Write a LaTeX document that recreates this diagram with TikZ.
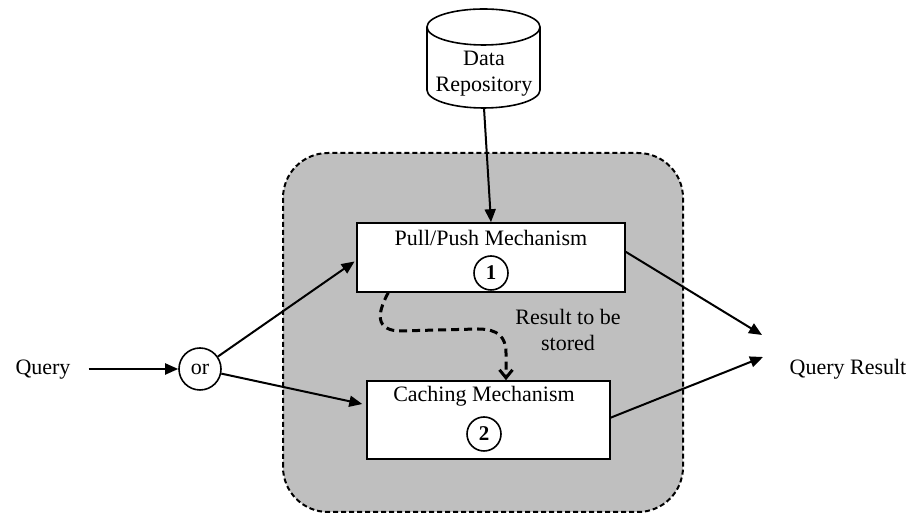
\documentclass[tikz,border=0pt]{standalone}
\usepackage{fontspec}
\setmainfont{Liberation Serif}
\usetikzlibrary{arrows.meta,calc}
\begin{document}
\begin{tikzpicture}[x=1pt,y=1pt,
  txt/.style={font=\fontsize{22}{26}\selectfont, align=center, inner sep=0pt},
  num/.style={draw, circle, line width=1.6pt, minimum size=34pt, inner sep=0pt, font=\fontsize{21}{21}\selectfont\bfseries},
  arr/.style={line width=2pt, -{Triangle[length=13pt,width=11pt]}},
  darr/.style={line width=3pt, dash pattern=on 8pt off 5pt, -{Straight Barb[length=8pt,width=13pt]}}
]
\useasboundingbox (0,0) rectangle (908,521);
% container
\draw[fill=black!25, line width=2pt, dash pattern=on 5pt off 3pt, rounded corners=45pt] (283,9) rectangle (683,368);
% cylinder
\draw[line width=1.6pt, fill=white] (427,494) -- (427,431) arc[start angle=180, end angle=360, x radius=56.5pt, y radius=18pt] -- (540,494);
\draw[line width=1.6pt, fill=white] (483.5,494) ellipse[x radius=56.5pt, y radius=18pt];
\node[txt] (repo) at (484,447) {Data\\Repository};
\coordinate (repobot) at (484,413);
% boxes
\node[draw, line width=1.6pt, fill=white, minimum width=268pt, minimum height=69pt, inner sep=0pt] (pull) at (491,263.5) {};
\node[txt, anchor=base] (pulltxt) at (491,275) {Pull/Push Mechanism};
\node[num] (n1) at (491,248) {1};
\node[draw, line width=1.6pt, fill=white, minimum width=243pt, minimum height=78pt, inner sep=0pt] (cache) at (488.5,101) {};
\node[txt, anchor=base] (cachetxt) at (484,119) {Caching Mechanism};
\node[num] (n2) at (484,87) {2};
% left side
\node[txt, anchor=base] (query) at (43,146) {Query};
\node[draw, circle, line width=1.6pt, minimum size=42pt, inner sep=0pt, font=\fontsize{22}{22}\selectfont] (or) at (200,152) {or};
\node[txt, anchor=base] (qr) at (848,146) {Query Result};
% result label
\node[txt] (res) at (568,191) {Result to be\\stored};
% connectors
\draw[arr] (repobot) -- (pull.north);
\draw[arr] ([xshift=18pt]query.east |- or.west) -- (or.west);
\draw[arr, shorten >=2pt] (or) -- ($(pull.north west)!0.54!(pull.south west)$);
\draw[arr, shorten >=4pt] (or) -- ($(cache.north west)!0.31!(cache.south west)$);
\coordinate (qrin1) at (762,186);
\coordinate (qrin2) at (763,164);
\draw[arr] ($(pull.north east)!0.42!(pull.south east)$) -- (qrin1);
\draw[arr] ($(cache.north east)!0.47!(cache.south east)$) -- (qrin2);
\draw[darr] ($(pull.south west)+(32,0)$) .. controls (380,213) and (372,192) .. (398,190)
  -- (478,192) .. controls (498,192) and (506,184) .. (506,168) -- (cache.north -| 506,0);
\end{tikzpicture}
\end{document}
